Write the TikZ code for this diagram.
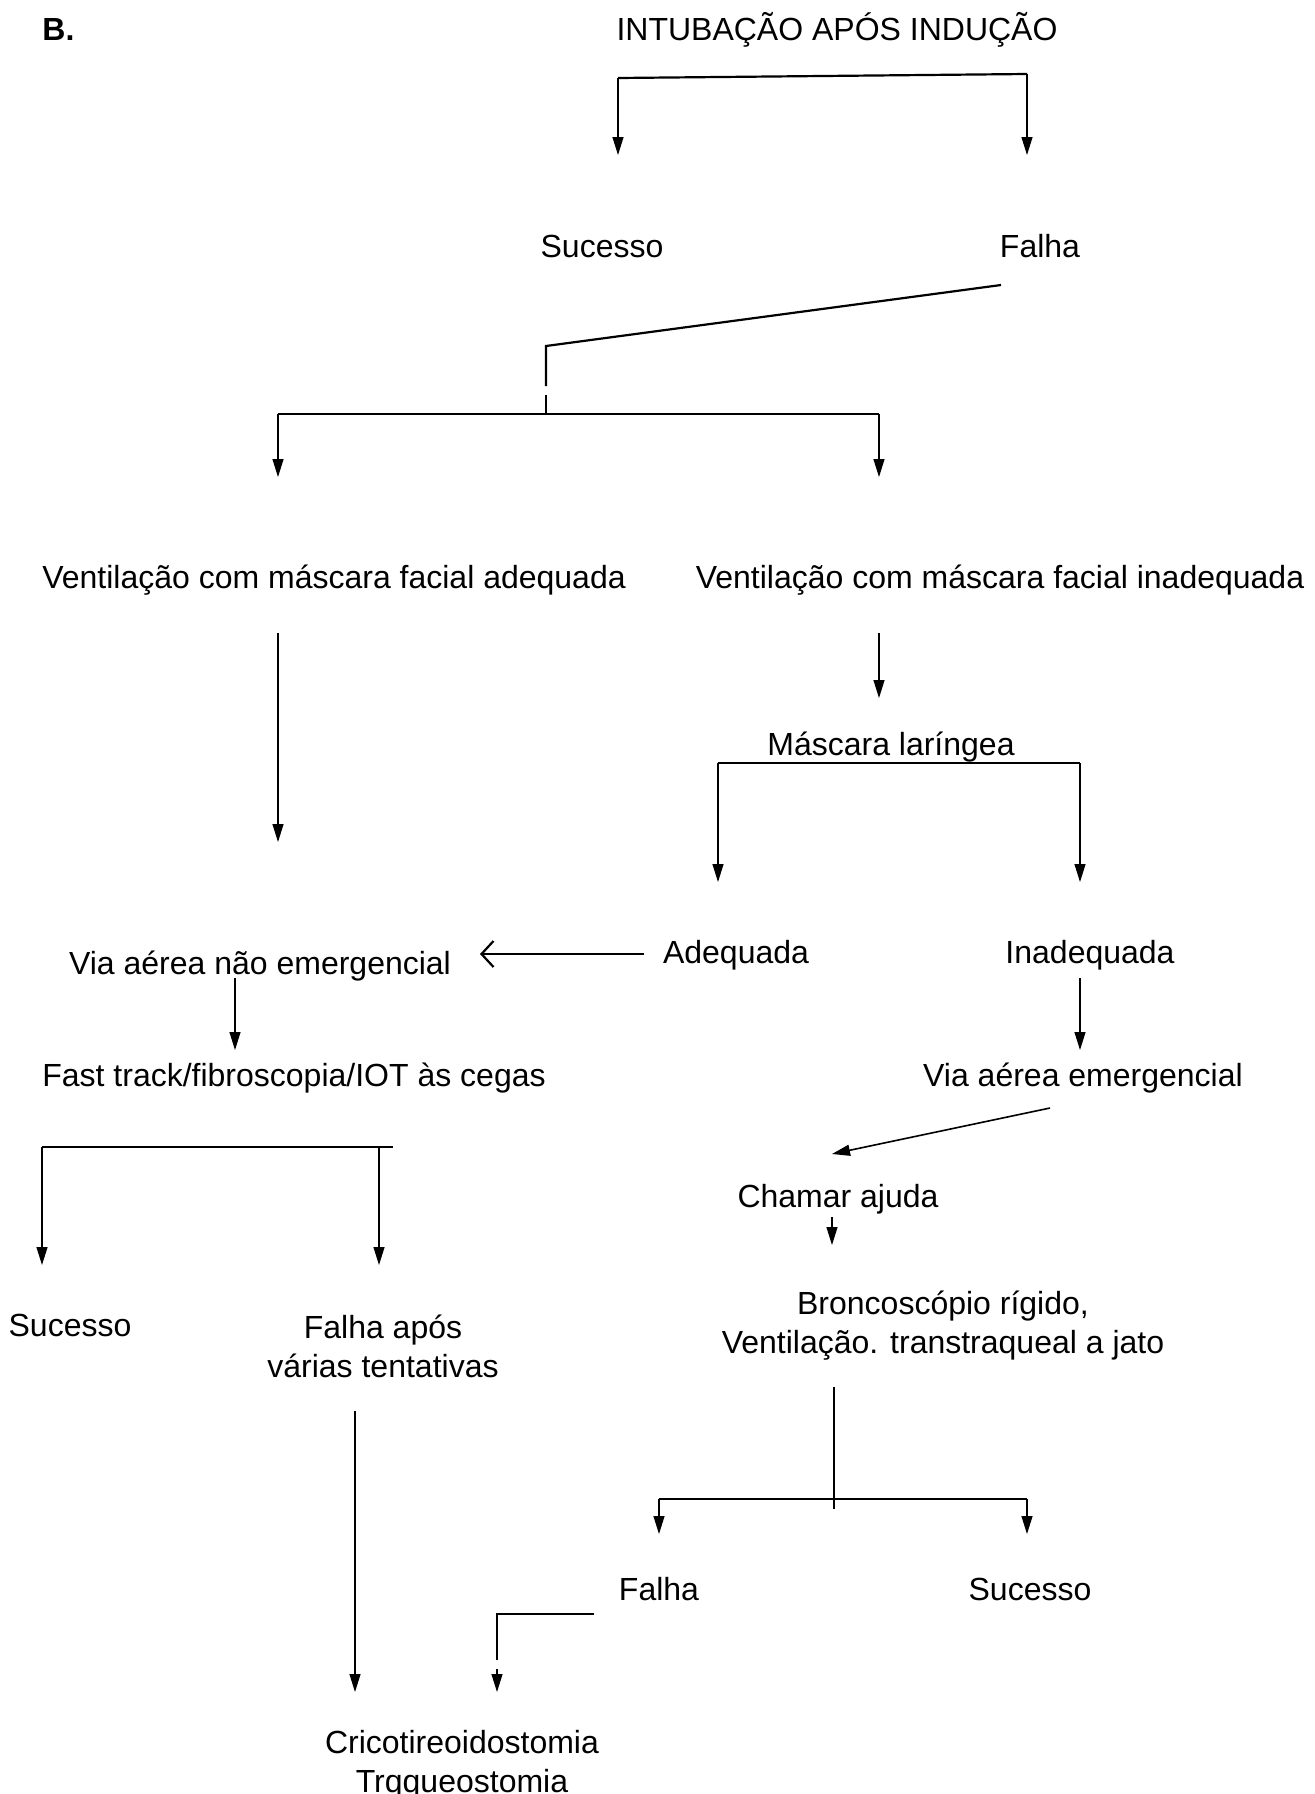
\documentclass[tikz,border=0pt]{standalone}
\usepackage{fontspec}
\setmainfont{Liberation Sans}
\usetikzlibrary{arrows.meta}
\tikzset{
  lbl/.style={inner sep=0pt, anchor=base, font=\fontsize{16}{19.5}\selectfont, align=center},
  conn/.style={line width=0.6pt},
  thick conn/.style={line width=1.1pt},
  arr/.style={conn, -{Triangle[length=9pt,width=5.5pt]}},
  openarr/.style={line width=1.1pt, -{Straight Barb[length=6pt,width=13pt,line width=1.1pt]}}
}
\begin{document}
\begin{tikzpicture}[x=0.5pt,y=-0.5pt]
\useasboundingbox (0,0) rectangle (1314,1794);
% texts
\node[lbl, anchor=base west, font=\fontsize{16}{19.5}\selectfont\bfseries] (B) at (42,40) {B.};
\node[lbl] (title) at (837,40) {INTUBAÇÃO APÓS INDUÇÃO};
\node[lbl] (suc1) at (602,257) {Sucesso};
\node[lbl] (fal1) at (1040,257) {Falha};
\node[lbl] (vadq) at (334,588) {Ventilação com máscara facial adequada};
\node[lbl] (vinad) at (1000,588) {Ventilação com máscara facial inadequada};
\node[lbl] (mlar) at (891,755) {Máscara laríngea};
\node[lbl] (adeq) at (736,963) {Adequada};
\node[lbl] (inadeq) at (1090,963) {Inadequada};
\node[lbl] (vane) at (260,974) {Via aérea não emergencial};
\node[lbl] (fast) at (294,1086) {Fast track/fibroscopia/IOT às cegas};
\node[lbl] (vae) at (1083,1086) {Via aérea emergencial};
\node[lbl] (chamar) at (838,1207) {Chamar ajuda};
\node[lbl] (bronc) at (943,1353) {Broncoscópio rígido,\\Ventilação. transtraqueal a jato};
\node[lbl] (suc2) at (70,1336) {Sucesso};
\node[lbl] (falapos) at (383,1377) {Falha após\\várias tentativas};
\node[lbl] (fal2) at (659,1600) {Falha};
\node[lbl] (suc3) at (1030,1600) {Sucesso};
\node[lbl] (crico) at (462,1792) {Cricotireoidostomia\\Trqqueostomia};
% coordinates
\coordinate (t1) at (618,78);
\coordinate (t2) at (1027,74);
\coordinate (t1e) at (618,155);
\coordinate (t2e) at (1027,155);
\coordinate (f1) at (1001,285);
\coordinate (f2) at (546,346);
\coordinate (f3) at (546,386);
\coordinate (f4) at (546,395);
\coordinate (f5) at (546,414);
\coordinate (h1) at (278,414);
\coordinate (h2) at (879,414);
\coordinate (h1e) at (278,477);
\coordinate (h2e) at (879,477);
\coordinate (la) at (278,633);
\coordinate (lae) at (278,842);
\coordinate (ra) at (879,633);
\coordinate (rae) at (879,698);
\coordinate (m1) at (718,763);
\coordinate (m2) at (1080,763);
\coordinate (m1e) at (718,882);
\coordinate (m2e) at (1080,882);
\coordinate (ad1) at (644,954);
\coordinate (ad2) at (480,954);
\coordinate (vn1) at (235,978);
\coordinate (vn2) at (235,1050);
\coordinate (in1) at (1080,978);
\coordinate (in2) at (1080,1050);
\coordinate (s1) at (1050,1108);
\coordinate (s2) at (832,1154);
\coordinate (c1) at (832,1217);
\coordinate (c2) at (832,1245);
\coordinate (b1) at (834,1387);
\coordinate (b2) at (834,1509);
\coordinate (bh1) at (659,1499);
\coordinate (bh2) at (1027,1499);
\coordinate (bh1e) at (659,1534);
\coordinate (bh2e) at (1027,1534);
\coordinate (fb1) at (42,1147);
\coordinate (fb2) at (393,1147);
\coordinate (fb3) at (379,1147);
\coordinate (fb1e) at (42,1265);
\coordinate (fb3e) at (379,1265);
\coordinate (lg1) at (355,1411);
\coordinate (lg2) at (355,1692);
\coordinate (e1) at (594,1614);
\coordinate (e2) at (497,1614);
\coordinate (e3) at (497,1660);
\coordinate (e4) at (497,1669);
\coordinate (e5) at (497,1692);
% connectors
\draw[thick conn] (t1) -- (t2);
\draw[arr] (t1) -- (t1e);
\draw[arr] (t2) -- (t2e);
\draw[thick conn] (f1) -- (f2) -- (f3);
\draw[conn] (f4) -- (f5);
\draw[thick conn] (h1) -- (h2);
\draw[arr] (h1) -- (h1e);
\draw[arr] (h2) -- (h2e);
\draw[arr] (la) -- (lae);
\draw[arr] (ra) -- (rae);
\draw[thick conn] (m1) -- (m2);
\draw[arr] (m1) -- (m1e);
\draw[arr] (m2) -- (m2e);
\draw[openarr] (ad1) -- (ad2);
\draw[arr] (vn1) -- (vn2);
\draw[arr] (in1) -- (in2);
\draw[arr, line width=0.8pt] (s1) -- (s2);
\draw[arr] (c1) -- (c2);
\draw[conn] (b1) -- (b2);
\draw[conn] (bh1) -- (bh2);
\draw[arr] (bh1) -- (bh1e);
\draw[arr] (bh2) -- (bh2e);
\draw[conn] (fb1) -- (fb2);
\draw[arr] (fb1) -- (fb1e);
\draw[arr] (fb3) -- (fb3e);
\draw[arr] (lg1) -- (lg2);
\draw[conn] (e1) -- (e2) -- (e3);
\draw[arr] (e4) -- (e5);
\end{tikzpicture}
\end{document}
